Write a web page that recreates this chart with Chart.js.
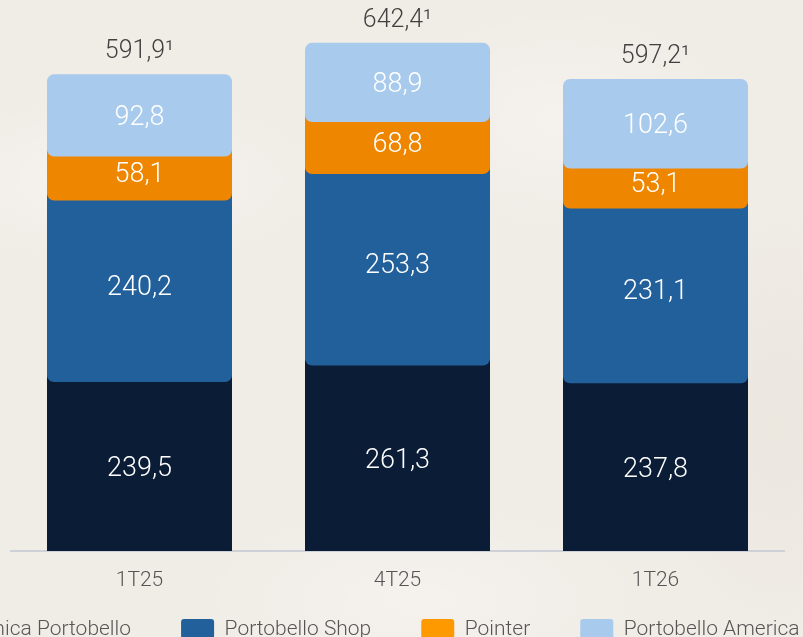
<!DOCTYPE html>
<html>
<head>
<meta charset="utf-8">
<script src="https://cdn.jsdelivr.net/npm/chart.js@4.4.1/dist/chart.umd.min.js"></script>
<style>
  html, body {
    margin: 0;
    padding: 0;
    width: 803px;
    height: 637px;
    overflow: hidden;
  }
  body {
    position: relative;
    background:
      radial-gradient(ellipse 300px 120px at 120px 180px, rgba(255,255,255,0.45), rgba(255,255,255,0) 70%),
      radial-gradient(ellipse 260px 160px at 560px 120px, rgba(255,255,255,0.35), rgba(255,255,255,0) 70%),
      radial-gradient(ellipse 320px 140px at 420px 600px, rgba(255,255,255,0.35), rgba(255,255,255,0) 70%),
      radial-gradient(ellipse 200px 300px at 780px 420px, rgba(230,224,214,0.5), rgba(230,224,214,0) 70%),
      #f0ece6;
  }
  #wrap {
    position: absolute;
    left: -155.5px;
    top: 0;
    width: 1010px;
    height: 674px;
  }
</style>
</head>
<body>
<div id="wrap"><canvas id="chart"></canvas></div>
<script>
// data
const categories = ['1T25', '4T25', '1T26'];
const ceramica = [239.5, 261.3, 237.8];
const shop = [240.2, 253.3, 231.1];
const pointer = [58.1, 68.8, 53.1];
const america = [92.8, 88.9, 102.6];
const totals = ['591,9¹', '642,4¹', '597,2¹'];

const seriesNames = ['Cerâmica Portobello', 'Portobello Shop', 'Pointer', 'Portobello America'];
const barColors = ['#0a1c36', '#22609c', '#ee8600', '#a8caec'];
const legendColors = ['#0a1c36', '#22609c', '#ff9900', '#a8caec'];

const OVERLAP = 12; // each segment slides under the one above
const FONT = "'Roboto Light', Roboto";

const fmt = v => v.toFixed(1).replace('.', ',');

// segments drawn bottom-up, upper ones overlapping lower ones
const segmentPlugin = {
  id: 'segments',
  afterLayout(chart) {
    // pull the legend up closer to the axis labels
    chart.legend.top -= 24.5;
    chart.legend.bottom -= 24.5;
  },
  afterDatasetUpdate(chart, args) {
    if (args.index === 0) return;
    args.meta.data.forEach(bar => { bar.base += OVERLAP; });
  },
  beforeDatasetDraw() {
    return false;
  },
  afterDatasetsDraw(chart) {
    const ctx = chart.ctx;
    const n = chart.data.datasets.length;
    for (let i = 0; i < n; i++) {
      chart.getDatasetMeta(i).controller.draw();
    }

    ctx.save();
    ctx.textAlign = 'center';
    ctx.textBaseline = 'alphabetic';

    // values inside bars
    ctx.font = '300 27px ' + FONT;
    ctx.fillStyle = '#ffffff';
    for (let i = 0; i < n; i++) {
      const meta = chart.getDatasetMeta(i);
      meta.data.forEach((bar, j) => {
        const top = i === 0 ? bar.y + OVERLAP : bar.y;
        const mid = (top + bar.base) / 2;
        ctx.fillText(fmt(chart.data.datasets[i].data[j]), bar.x, mid + 9.5);
      });
    }

    // totals above bars
    ctx.font = '300 25px ' + FONT;
    ctx.fillStyle = '#404040';
    chart.getDatasetMeta(n - 1).data.forEach((bar, j) => {
      ctx.fillText(totals[j], bar.x, bar.y - 16);
    });
    ctx.restore();
  }
};

const series = [ceramica, shop, pointer, america];

const datasets = series.map((values, i) => ({
  label: seriesNames[i],
  data: values,
  backgroundColor: barColors[i],
  borderWidth: 0,
  borderSkipped: false,
  borderRadius: i === 0
    ? { topLeft: 7, topRight: 7, bottomLeft: 0, bottomRight: 0 }
    : { topLeft: 7, topRight: 7, bottomLeft: 7, bottomRight: 7 },
  barPercentage: 0.717,
  categoryPercentage: 1
}));

new Chart(document.getElementById('chart'), {
  type: 'bar',
  data: {
    labels: categories,
    datasets: datasets
  },
  options: {
    responsive: true,
    maintainAspectRatio: false,
    animation: false,
    layout: { padding: 0 },
    plugins: {
      tooltip: { enabled: false },
      legend: {
        position: 'bottom',
        labels: {
          boxWidth: 33,
          boxHeight: 20,
          padding: 50,
          color: '#555555',
          useBorderRadius: true,
          borderRadius: 3,
          font: { family: FONT, size: 21, weight: 300 },
          generateLabels(chart) {
            const items = Chart.defaults.plugins.legend.labels.generateLabels(chart);
            items.forEach((item, i) => {
              item.fillStyle = legendColors[i];
              item.strokeStyle = legendColors[i];
              item.lineWidth = 0;
            });
            return items;
          }
        }
      }
    },
    scales: {
      x: {
        stacked: true,
        grid: { display: false, drawTicks: false },
        border: { display: true, color: '#cdd0d6', width: 2 },
        ticks: {
          color: '#555555',
          padding: 16,
          font: { family: FONT, size: 21, weight: 300 }
        },
        afterFit(scale) { scale.height = 42; }
      },
      y: {
        stacked: true,
        min: 0,
        max: 729,
        grid: { display: false },
        border: { display: false },
        ticks: { display: false },
        afterFit(scale) { scale.width = 165.5; }
      },
      y2: {
        position: 'right',
        grid: { display: false },
        border: { display: false },
        ticks: { display: false },
        afterFit(scale) { scale.width = 70.5; }
      }
    }
  },
  plugins: [segmentPlugin]
});
</script>
</body>
</html>
